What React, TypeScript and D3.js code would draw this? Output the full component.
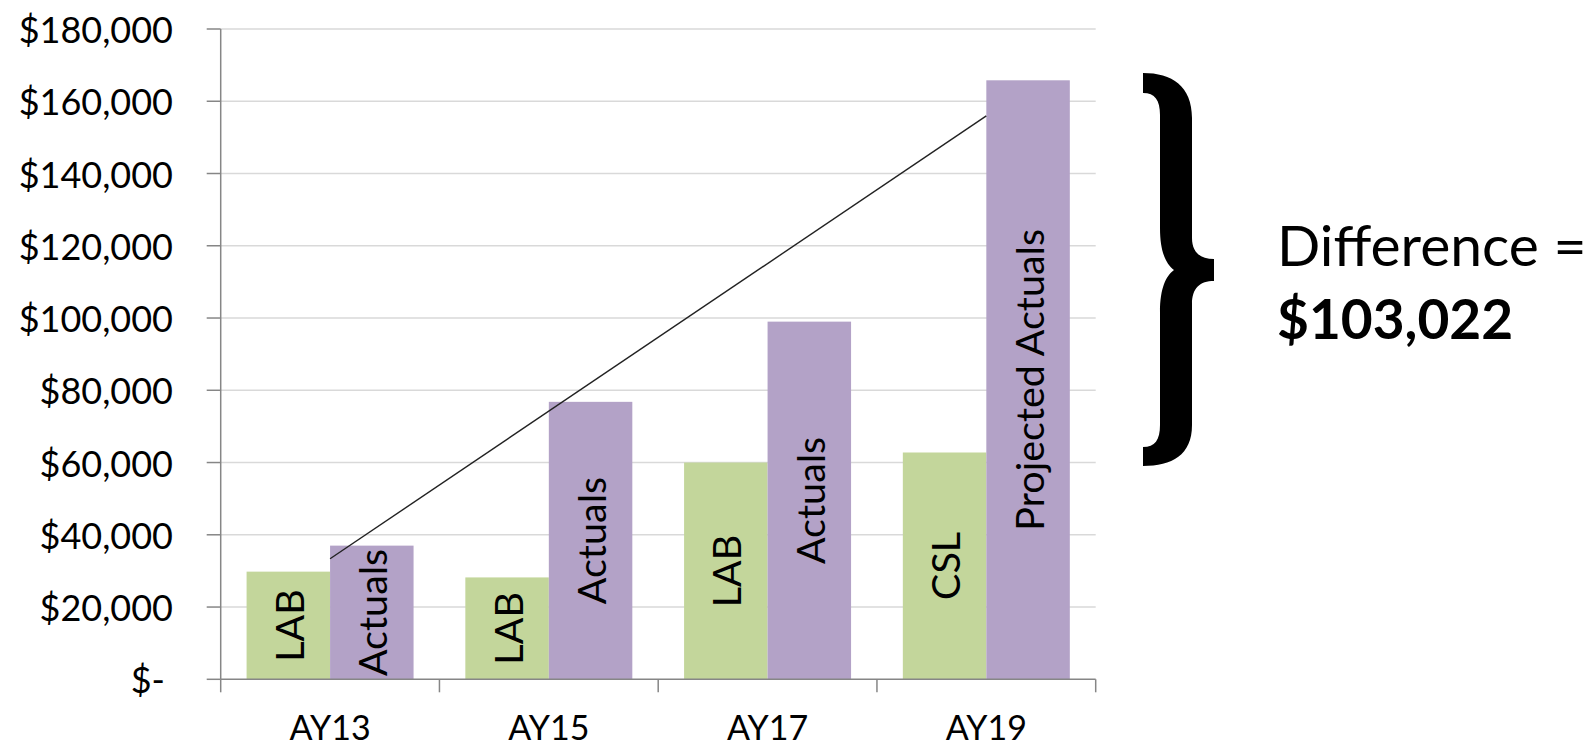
import React from 'react';
import * as d3 from 'd3';

const categories = ['AY13', 'AY15', 'AY17', 'AY19'];
const baseValues = [29800, 28200, 60000, 62778];
const baseLabels = ['LAB', 'LAB', 'LAB', 'CSL'];
const actualValues = [37000, 76800, 99000, 165800];
const actualLabels = ['Actuals', 'Actuals', 'Actuals', 'Projected Actuals'];
const yTicks = [0, 20000, 40000, 60000, 80000, 100000, 120000, 140000, 160000, 180000];
const yTickLabels = ['$-', '$20,000', '$40,000', '$60,000', '$80,000', '$100,000', '$120,000', '$140,000', '$160,000', '$180,000'];
const diffLine1 = 'Difference =';
const diffLine2 = '$103,022';

const W = 1595;
const H = 747;
const FONT = "Lato, 'Open Sans', sans-serif";
const GREEN = '#C3D69B';
const PURPLE = '#B3A2C7';
const AXIS = '#868686';
const GRID = '#D9D9D9';

export default function App() {
  const plotLeft = 220.7;
  const plotRight = 1095.7;
  const y = d3.scaleLinear().domain([0, 180000]).range([679.3, 29]);
  const x = d3.scaleBand<string>().domain(categories).range([plotLeft, plotRight]).paddingInner(0).paddingOuter(0);
  const inner = d3.scaleBand<string>().domain(['base', 'actual']).range([0, x.bandwidth()]).paddingInner(0).paddingOuter(0.31);

  // linear trendline on the actuals series (least squares over category index)
  const n = actualValues.length;
  const idx = d3.range(1, n + 1);
  const mx = d3.mean(idx)!;
  const my = d3.mean(actualValues)!;
  const slope = d3.sum(idx.map((v, i) => (v - mx) * (actualValues[i] - my))) / d3.sum(idx.map((v) => (v - mx) ** 2));
  const icpt = my - slope * mx;
  const xCenter = (c: string) => (x(c) as number) + x.bandwidth() / 2;
  const trend = d3.line<number>()
    .x((i) => xCenter(categories[i - 1]))
    .y((i) => y(icpt + slope * i));

  const boundaries = d3.range(categories.length + 1).map((i) => plotLeft + i * x.step());

  return (
    <svg width={W} height={H} style={{ position: 'absolute', left: 0, top: 0, background: '#fff' }} fontFamily={FONT}>
      <rect x={0} y={0} width={W} height={H} fill="#fff" />
      {/* gridlines */}
      {yTicks.slice(1).map((t) => (
        <line key={'g' + t} x1={plotLeft} x2={plotRight} y1={y(t)} y2={y(t)} stroke={GRID} strokeWidth={1.5} />
      ))}
      {/* bars */}
      {categories.map((c, i) => {
        const bx = (x(c) as number) + (inner('base') as number);
        const ax = (x(c) as number) + (inner('actual') as number);
        const bw = inner.bandwidth();
        return (
          <g key={c}>
            <rect x={bx} y={y(baseValues[i])} width={bw} height={y(0) - y(baseValues[i])} fill={GREEN} />
            <rect x={ax} y={y(actualValues[i])} width={bw} height={y(0) - y(actualValues[i])} fill={PURPLE} />
          </g>
        );
      })}
      {/* bar labels */}
      {categories.map((c, i) => {
        const bw = inner.bandwidth();
        const bx = (x(c) as number) + (inner('base') as number) + bw / 2;
        const ax = (x(c) as number) + (inner('actual') as number) + bw / 2;
        const by = (y(baseValues[i]) + y(0)) / 2;
        const ay = (y(actualValues[i]) + y(0)) / 2;
        return (
          <g key={'l' + c} fontSize={39.5} fill="#000">
            <text transform={`translate(${bx},${by}) rotate(-90)`} textAnchor="middle" dominantBaseline="central">{baseLabels[i]}</text>
            <text transform={`translate(${ax},${ay}) rotate(-90)`} textAnchor="middle" dominantBaseline="central">{actualLabels[i]}</text>
          </g>
        );
      })}
      {/* trendline */}
      <path d={trend([1, n]) || ''} fill="none" stroke="#222" strokeWidth={1.4} />
      {/* y axis */}
      <line x1={plotLeft} x2={plotLeft} y1={y(180000)} y2={y(0)} stroke={AXIS} strokeWidth={1.5} />
      {yTicks.map((t, i) => (
        <g key={'t' + t}>
          <line x1={plotLeft - 14} x2={plotLeft} y1={y(t)} y2={y(t)} stroke={AXIS} strokeWidth={1.5} />
          <text x={t === 0 ? 165 : 173} y={y(t)} textAnchor="end" dominantBaseline="central" fontSize={36} fill="#000">{yTickLabels[i]}</text>
        </g>
      ))}
      {/* x axis */}
      <line x1={plotLeft} x2={plotRight} y1={y(0)} y2={y(0)} stroke={AXIS} strokeWidth={1.5} />
      {boundaries.map((bx, i) => (
        <line key={'xb' + i} x1={bx} x2={bx} y1={y(0)} y2={y(0) + 13} stroke={AXIS} strokeWidth={1.5} />
      ))}
      {categories.map((c) => (
        <text key={'x' + c} x={xCenter(c)} y={740} textAnchor="middle" fontSize={34} fill="#000">{c}</text>
      ))}
      {/* brace */}
      <path
        d="M1143 73 C1172 73 1192 86 1192 118 L1192 238 C1192 252 1200 259 1214 259 L1214 281 C1200 281 1192 288 1192 304 L1192 425 C1192 455 1172 466 1143 466 L1143 447 C1155 447 1160 440 1160 425 L1160 312 C1160 288 1166 276 1174 270 C1166 264 1160 252 1160 228 L1160 115 C1160 100 1155 93 1143 93 Z"
        fill="#000"
      />
      <text x={1277} y={266} fontSize={57} fill="#000">{diffLine1}</text>
      <text x={1277} y={339} fontSize={55} fontWeight="bold" fill="#000">{diffLine2}</text>
    </svg>
  );
}
